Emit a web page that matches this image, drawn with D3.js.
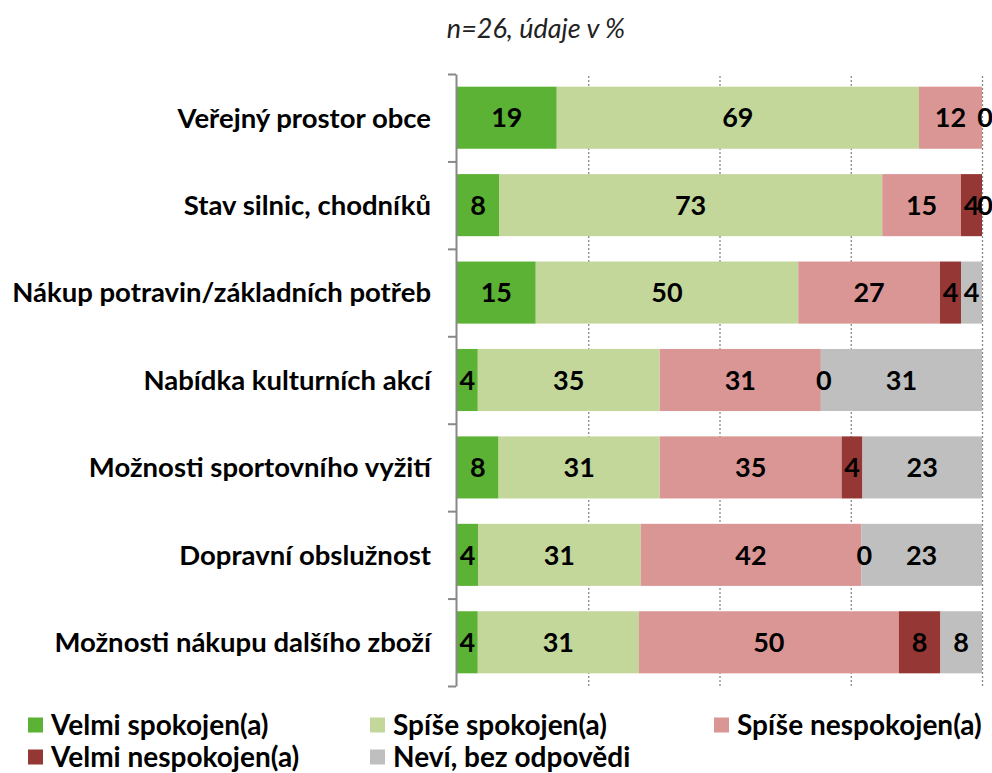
<!DOCTYPE html>
<html>
<head>
<meta charset="utf-8">
<script src="https://cdn.jsdelivr.net/npm/d3@7"></script>
<style>
  body { margin: 0; background: #fff; }
  text { font-family: Lato, "Open Sans", sans-serif; }
</style>
</head>
<body>
<div id="chart"></div>
<script>
// categories (top to bottom)
const categories = [
  'Veřejný prostor obce',
  'Stav silnic, chodníků',
  'Nákup potravin/základních potřeb',
  'Nabídka kulturních akcí',
  'Možnosti sportovního vyžití',
  'Dopravní obslužnost',
  'Možnosti nákupu dalšího zboží'
]

const seriesNames = ['Velmi spokojen(a)', 'Spíše spokojen(a)', 'Spíše nespokojen(a)', 'Velmi nespokojen(a)', 'Neví, bez odpovědi']
const seriesColors = ['#5bb234', '#c4d79b', '#da9694', '#953735', '#bfbfbf']

// values in %, one array per series (null = no label shown)
const velmiSpokojen = [19, 8, 15, 4, 8, 4, 4]
const spiseSpokojen = [69, 73, 50, 35, 31, 31, 31]
const spiseNespokojen = [12, 15, 27, 31, 35, 42, 50]
const velmiNespokojen = [0, 4, 4, 0, 4, 0, 8]
const nevi = [null, 0, 4, 31, 23, 23, 8]

const xTicks = [25, 50, 75, 100]
const title = 'n=26, údaje v %'

const width = 992, height = 773
const plot = { left: 457, right: 982, top: 74, bottom: 686 }
const fontSize = 27.5

const svg = d3.select('#chart').append('svg')
  .attr('width', width)
  .attr('height', height)

// title
svg.append('text')
  .attr('x', 536)
  .attr('y', 38)
  .attr('text-anchor', 'middle')
  .attr('font-size', 27)
  .attr('font-style', 'italic')
  .attr('fill', '#222')
  .text(title)

const x = d3.scaleLinear().domain([0, 100]).range([plot.left, plot.right])
const y = d3.scaleBand()
  .domain(categories)
  .range([plot.top, plot.bottom])
  .paddingInner(0.29)
  .paddingOuter(0.145)

// dotted grid
svg.append('g')
  .attr('class', 'grid')
  .attr('transform', `translate(0, ${plot.bottom})`)
  .call(d3.axisBottom(x)
    .tickValues(xTicks)
    .tickSize(-(plot.bottom - plot.top))
    .tickFormat(''))
  .call(g => g.select('.domain').remove())
  .call(g => g.selectAll('line')
    .attr('stroke', '#888')
    .attr('stroke-width', 1.3)
    .attr('stroke-dasharray', '2,2'))

// stack data (100% stacked, each row normalised)
const seriesValues = [velmiSpokojen, spiseSpokojen, spiseNespokojen, velmiNespokojen, nevi]
const rows = categories.map((c, i) => {
  const vals = seriesValues.map(s => s[i])
  const total = d3.sum(vals, v => v || 0)
  let acc = 0
  return vals.map((v, k) => {
    const x0 = acc / total * 100
    acc += (v || 0)
    return { cat: c, k, v, x0, x1: acc / total * 100 }
  })
})

const rowG = svg.selectAll('.row')
  .data(rows)
  .enter()
  .append('g')
  .attr('class', 'row')

rowG.selectAll('rect')
  .data(d => d.filter(s => s.v))
  .enter()
  .append('rect')
  .attr('x', d => x(d.x0))
  .attr('y', d => y(d.cat))
  .attr('width', d => x(d.x1) - x(d.x0))
  .attr('height', y.bandwidth())
  .attr('fill', d => seriesColors[d.k])

rowG.selectAll('.val')
  .data(d => d.filter(s => s.v !== null))
  .enter()
  .append('text')
  .attr('class', 'val')
  .attr('x', d => (x(d.x0) + x(d.x1)) / 2 + (d.v === 0 ? 3 : 0))
  .attr('y', d => y(d.cat) + y.bandwidth() / 2)
  .attr('dy', '0.36em')
  .attr('text-anchor', 'middle')
  .attr('font-size', 27)
  .attr('font-weight', 'bold')
  .attr('fill', '#000')
  .text(d => d.v)

// y axis with ticks between categories
const yTicks = d3.scaleLinear().domain([0, categories.length]).range([plot.top, plot.bottom])
svg.append('g')
  .attr('transform', `translate(${plot.left - 1}, 0)`)
  .call(d3.axisLeft(yTicks).ticks(categories.length).tickSize(8).tickSizeOuter(0).tickFormat(''))
  .call(g => g.selectAll('line, path').attr('stroke', '#888').attr('stroke-width', 2))

// category labels
svg.append('g')
  .selectAll('text')
  .data(categories)
  .enter()
  .append('text')
  .attr('x', 431)
  .attr('y', d => y(d) + y.bandwidth() / 2)
  .attr('dy', '0.36em')
  .attr('text-anchor', 'end')
  .attr('font-size', fontSize)
  .attr('font-weight', 'bold')
  .attr('fill', '#000')
  .text(d => d)

// legend
const legendPos = [[28, 725], [370, 725], [714, 725], [28, 757], [370, 757]]
const legend = svg.append('g')
  .selectAll('g')
  .data(seriesNames)
  .enter()
  .append('g')
  .attr('transform', (d, i) => `translate(${legendPos[i][0]}, ${legendPos[i][1]})`)

legend.append('rect')
  .attr('x', 0)
  .attr('y', -7.5)
  .attr('width', 15)
  .attr('height', 15)
  .attr('fill', (d, i) => seriesColors[i])

legend.append('text')
  .attr('x', 23)
  .attr('y', 0)
  .attr('dy', '0.36em')
  .attr('font-size', 28)
  .attr('font-weight', 'bold')
  .attr('fill', '#000')
  .text(d => d)
</script>
</body>
</html>
